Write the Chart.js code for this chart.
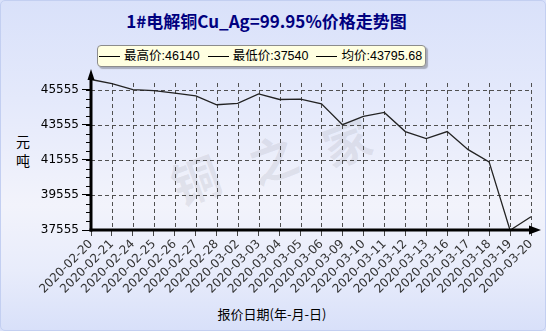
<!DOCTYPE html>
<html lang="zh-CN">
<head>
<meta charset="UTF-8" />
<title>1#电解铜Cu_Ag=99.95%价格走势图</title>
<script src="https://cdn.jsdelivr.net/npm/chart.js"></script>
<style>
  html, body { margin: 0; padding: 0; }
  body { width: 546px; height: 331px; overflow: hidden; }
  #wrap { position: relative; width: 546px; height: 331px;
    background: linear-gradient(to bottom, #d9e1fa 0%, #e4e9fb 30%, #f2f3fb 62%, #e8ecfb 82%, #d8e0f9 100%); }
  #frame { position: absolute; left: 0; top: 0; width: 546px; height: 331px; box-sizing: border-box;
    border: 1px solid #c3cff1; border-radius: 5px; pointer-events: none; }
  #chart { position: absolute; left: 0; top: 0; }
  #title { position: absolute; left: 0; top: 8px; width: 533px; text-align: center;
    font: bold 17px "Noto Sans CJK SC"; color: #00007f; }
  #legend { position: absolute; left: 97px; top: 45px; width: 329px; height: 22px; box-sizing: border-box;
    background: #ffffe1; border: 1px solid #8c8c8c; border-radius: 4px; box-shadow: 2px 2px 1px rgba(0,0,0,0.25);
    font: 12.5px "Liberation Sans", "Noto Sans CJK SC"; line-height: 20px; padding-left: 1px; white-space: nowrap; color: #000; }
  #legend .item { margin-right: 8px; }
  #legend i { display: inline-block; width: 21px; height: 0; border-top: 1px solid #000; vertical-align: middle; margin-right: 4px; }
  .ytitle { position: absolute; left: 16px; width: 14px; text-align: center; font: 14px "Noto Sans CJK SC"; color: #000; }
  #xtitle { position: absolute; left: 0; top: 304px; width: 544px; text-align: center; font: 13px "Noto Sans CJK SC"; color: #000; }
  .wm { position: absolute; font: bold 48px "Noto Sans CJK SC"; color: rgba(140,140,150,0.16); transform: rotate(-20deg); line-height: 1; }
</style>
</head>
<body>
<div id="wrap">
  <span class="wm" style="left:171px; top:154px;">铜</span>
  <span class="wm" style="left:248px; top:133px;">之</span>
  <span class="wm" style="left:322px; top:116px;">家</span>
  <div id="frame"></div>
  <div id="title">1#电解铜Cu_Ag=99.95%价格走势图</div>
  <div id="legend"></div>
  <div class="ytitle" style="top:131px;">元</div>
  <div class="ytitle" style="top:150px;">吨</div>
  <div id="xtitle">报价日期(年-月-日)</div>
  <canvas id="chart" width="546" height="331"></canvas>
</div>

<script>
  // data
  const dates = ['2020-02-20', '2020-02-21', '2020-02-24', '2020-02-25', '2020-02-26', '2020-02-27',
    '2020-02-28', '2020-03-02', '2020-03-03', '2020-03-04', '2020-03-05', '2020-03-06',
    '2020-03-09', '2020-03-10', '2020-03-11', '2020-03-12', '2020-03-13', '2020-03-16',
    '2020-03-17', '2020-03-18', '2020-03-19', '2020-03-20'];
  const prices = [46140, 45910, 45560, 45510, 45360, 45210,
    44700, 44780, 45320, 45000, 45020, 44750,
    43560, 44040, 44260, 43170, 42770, 43170,
    42140, 41440, 37540, 38310];
  const yTicks = [37555, 39555, 41555, 43555, 45555];
  const yMinorStep = 500;
  const legendNames = ['最高价', '最低价', '均价'];
  const legendValues = ['46140', '37540', '43795.68'];

  // legend box
  document.getElementById('legend').innerHTML = legendNames
    .map((n, i) => '<span class="item"><i></i>' + n + ':' + legendValues[i] + '</span>')
    .join('');

  // dashed grid under the line
  const dashGrid = {
    id: 'dashGrid',
    beforeDatasetsDraw(chart) {
      const { ctx, chartArea: a, scales: { x, y } } = chart;
      ctx.save();
      ctx.strokeStyle = '#505050';
      ctx.lineWidth = 1;
      ctx.setLineDash([4, 3]);
      dates.forEach((d, i) => {
        const px = Math.round(x.getPixelForValue(i)) + 0.5;
        ctx.beginPath();
        ctx.moveTo(px, a.top);
        ctx.lineTo(px, a.bottom);
        ctx.stroke();
      });
      yTicks.forEach(v => {
        const py = Math.round(y.getPixelForValue(v)) + 0.5;
        ctx.beginPath();
        ctx.moveTo(a.left, py);
        ctx.lineTo(a.right, py);
        ctx.stroke();
      });
      ctx.restore();
    }
  };

  // thick axes, minor ticks and arrow heads
  const axisDecor = {
    id: 'axisDecor',
    afterDraw(chart) {
      const { ctx, chartArea: a, scales: { y } } = chart;
      ctx.save();
      ctx.fillStyle = '#000';
      for (let v = yTicks[0]; v <= yTicks[yTicks.length - 1]; v += yMinorStep) {
        const py = Math.round(y.getPixelForValue(v));
        ctx.fillRect(a.left - 5, py, 5, 1);
      }
      ctx.fillRect(a.left - 1.5, 76, 3, a.bottom - 76 + 1.5);
      ctx.fillRect(a.left - 1.5, a.bottom - 1.5, a.right - a.left + 4, 3);
      ctx.beginPath();
      ctx.moveTo(a.left, 69);
      ctx.lineTo(a.left - 3.5, 80);
      ctx.lineTo(a.left + 3.5, 80);
      ctx.closePath();
      ctx.fill();
      ctx.beginPath();
      ctx.moveTo(a.right + 10, a.bottom);
      ctx.lineTo(a.right - 2, a.bottom - 4.5);
      ctx.lineTo(a.right - 2, a.bottom + 4.5);
      ctx.closePath();
      ctx.fill();
      ctx.restore();
    }
  };

  new Chart(document.getElementById('chart'), {
    type: 'line',
    data: {
      labels: dates,
      datasets: [{
        data: prices,
        borderColor: '#222',
        borderWidth: 1.3,
        pointRadius: 0,
        tension: 0,
        clip: false
      }]
    },
    options: {
      responsive: false,
      animation: false,
      layout: { padding: { left: 0, right: 15, top: 83, bottom: 0 } },
      plugins: { legend: { display: false }, tooltip: { enabled: false } },
      scales: {
        x: {
          offset: false,
          afterFit: s => { s.height = 101; },
          grid: { drawOnChartArea: false, tickLength: 6, tickColor: '#444', offset: false },
          border: { display: false },
          ticks: { color: '#333', font: { family: 'DejaVu Sans', size: 12 }, minRotation: 45, maxRotation: 45, autoSkip: false, padding: 1 }
        },
        y: {
          min: yTicks[0],
          max: 45940,
          afterBuildTicks: s => { s.ticks = yTicks.map(v => ({ value: v })); },
          afterFit: s => { s.width = 91; },
          grid: { drawOnChartArea: false, tickLength: 9, tickColor: '#000' },
          border: { display: false },
          ticks: { color: '#000', font: { family: 'DejaVu Sans', size: 12 }, padding: 3, callback: v => String(v) }
        }
      }
    },
    plugins: [dashGrid, axisDecor]
  });
</script>
</body>
</html>
